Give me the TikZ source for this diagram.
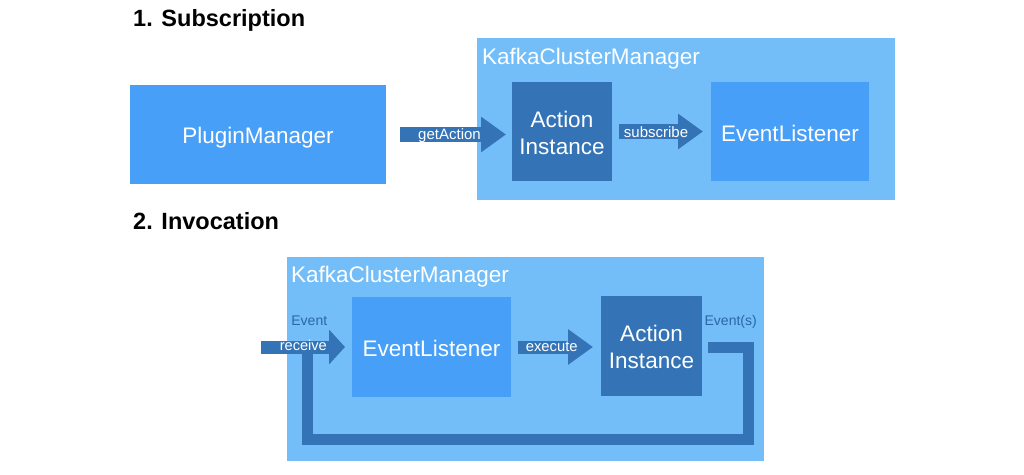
\documentclass[tikz,border=0pt]{standalone}
\usepackage{fontspec}
\setmainfont{Liberation Sans}
\usetikzlibrary{arrows.meta}
\definecolor{medblue}{HTML}{489FF8}
\definecolor{lightblue}{HTML}{73BEF9}
\definecolor{darkblue}{HTML}{3373B6}
\definecolor{textblue}{HTML}{2C66A6}
\tikzset{
  box/.style={inner sep=0pt, outer sep=0pt, text=white, align=center, font=\fontsize{22.5}{27}\selectfont},
  outerbox/.style={box, fill=lightblue},
  medbox/.style={box, fill=medblue},
  darkbox/.style={box, fill=darkblue},
  title/.style={inner sep=0pt, anchor=base west, font=\fontsize{23.5}{28}\selectfont\bfseries},
  boxlabel/.style={inner sep=0pt, anchor=base west, text=white, font=\fontsize{22.5}{27}\selectfont},
  arrlabel/.style={inner sep=0pt, anchor=base, text=white, font=\fontsize{15}{18}\selectfont},
  evlabel/.style={inner sep=0pt, anchor=base, text=textblue, font=\fontsize{14}{17}\selectfont},
  fatarrow/.style={draw=darkblue, line width=14.5pt, -{Triangle[length=25pt,width=34pt]}},
  fatarrowshort/.style={draw=darkblue, line width=13pt, -{Triangle[length=16pt,width=34pt]}},
  loopline/.style={draw=darkblue, line width=11pt, line join=miter},
}
\begin{document}
\begin{tikzpicture}[x=1pt,y=-1pt]
\useasboundingbox (0,0) rectangle (1024,474);
% Subscription
\node[title] (t1) at (133,26.5) {1. Subscription};
\node[outerbox, minimum width=418pt, minimum height=162pt] (km1) at (686,119) {};
\node[boxlabel] (km1l) at (482,64) {KafkaClusterManager};
\node[medbox, minimum width=256pt, minimum height=99pt] (pm) at (258,134.5) {};
\node[box] (pmt) at (258,137.5) {PluginManager};
\node[darkbox, minimum width=100pt, minimum height=99pt] (ai1) at (562,131.5) {};
\node[box] (ai1t) at (562,132.5) {Action\\Instance};
\node[medbox, minimum width=158pt, minimum height=99pt] (el1) at (790,131.5) {};
\node[box] (el1t) at (790,133.5) {EventListener};
\draw[fatarrow, shorten <=14pt, shorten >=6pt] (pm.east) -- (pm.east -| ai1.west);
\node[arrlabel] (ga) at (449.5,139) {getAction};
\draw[fatarrow, shorten <=7pt, shorten >=8pt] (ai1.east) -- (el1.west);
\node[arrlabel] (sub) at (656,137.3) {subscribe};
% Invocation
\node[title] (t2) at (133,229.5) {2. Invocation};
\node[outerbox, minimum width=477pt, minimum height=204pt] (km2) at (525.5,359) {};
\node[boxlabel] (km2l) at (291,282) {KafkaClusterManager};
\node[medbox, minimum width=159pt, minimum height=100pt] (el2) at (431.5,347) {};
\node[box] (el2t) at (431.5,348.5) {EventListener};
\node[darkbox, minimum width=101pt, minimum height=100pt] (ai2) at (651.5,346) {};
\node[box] (ai2t) at (651.5,347) {Action\\Instance};
\coordinate (rin) at (261,347);
\coordinate (lr) at (748,347);
\coordinate (lb) at (748,439);
\coordinate (ll) at (307.5,439);
\coordinate (lu) at (307.5,352);
\draw[loopline] ([xshift=6pt]ai2.east |- lr) -- (lr) -- (lb) -- (ll) -- (lu);
\draw[fatarrowshort, shorten >=7pt] (rin) -- (rin -| el2.west);
\node[arrlabel, font=\fontsize{14.6}{17}\selectfont] (rec) at (303.3,350.7) {receive};
\draw[fatarrowshort, -{Triangle[length=25pt,width=34pt]}, shorten <=7pt, shorten >=8pt] (el2.east) -- (el2.east -| ai2.west);
\node[arrlabel, font=\fontsize{14.8}{17}\selectfont] (exe) at (551.7,351.7) {execute};
\node[evlabel] (ev) at (309.3,325.7) {Event};
\node[evlabel] (evs) at (730.7,325.7) {Event(s)};
\end{tikzpicture}
\end{document}
